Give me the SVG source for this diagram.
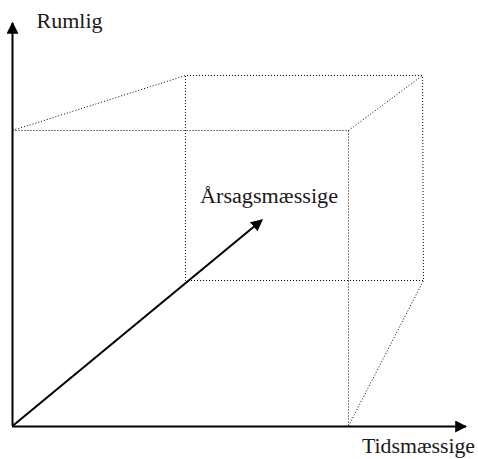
<svg xmlns="http://www.w3.org/2000/svg" width="478" height="459" viewBox="0 0 478 459">
<style>
.dot{fill:none;stroke:#000;stroke-width:1;stroke-dasharray:1 2}
.axis{fill:none;stroke:#000;stroke-width:2}
.lbl{font-family:"Liberation Serif",serif;font-size:20px;fill:#1a1a1a}
</style>
<defs>
<marker id="ah" viewBox="0 0 10 10" refX="9" refY="5" markerWidth="12" markerHeight="12" markerUnits="userSpaceOnUse" orient="auto">
<path d="M0,0 L10,5 L0,10 z" fill="#000"/>
</marker>
</defs>
<rect width="478" height="459" fill="#fff"/>
<g id="cube">
<polyline class="dot" points="12.5,130.5 185.5,75.5 422.5,75.5 423.5,280.5 185.5,280.5 185.5,75.5"/>
<polyline class="dot" points="12.5,130.5 348.5,130.5 348.5,426"/>
<line class="dot" x1="348.5" y1="130.5" x2="422.5" y2="75.5"/>
<line class="dot" x1="348.5" y1="426" x2="423.5" y2="280.5"/>
</g>
<g id="connectors">
<line class="axis" x1="12.5" y1="426" x2="12.5" y2="23" marker-end="url(#ah)"/>
<line class="axis" x1="12" y1="426.5" x2="466" y2="426.5" marker-end="url(#ah)"/>
<line class="axis" x1="12.5" y1="426" x2="262" y2="220" marker-end="url(#ah)"/>
</g>
<g id="label-rumlig"><text class="lbl" x="36.5" y="28" textLength="66" lengthAdjust="spacingAndGlyphs">Rumlig</text></g>
<g id="label-arsag"><text class="lbl" x="200" y="203" textLength="138" lengthAdjust="spacingAndGlyphs">Årsagsmæssige</text></g>
<g id="label-tid"><text class="lbl" x="362" y="453" textLength="113" lengthAdjust="spacingAndGlyphs">Tidsmæssige</text></g>
</svg>
